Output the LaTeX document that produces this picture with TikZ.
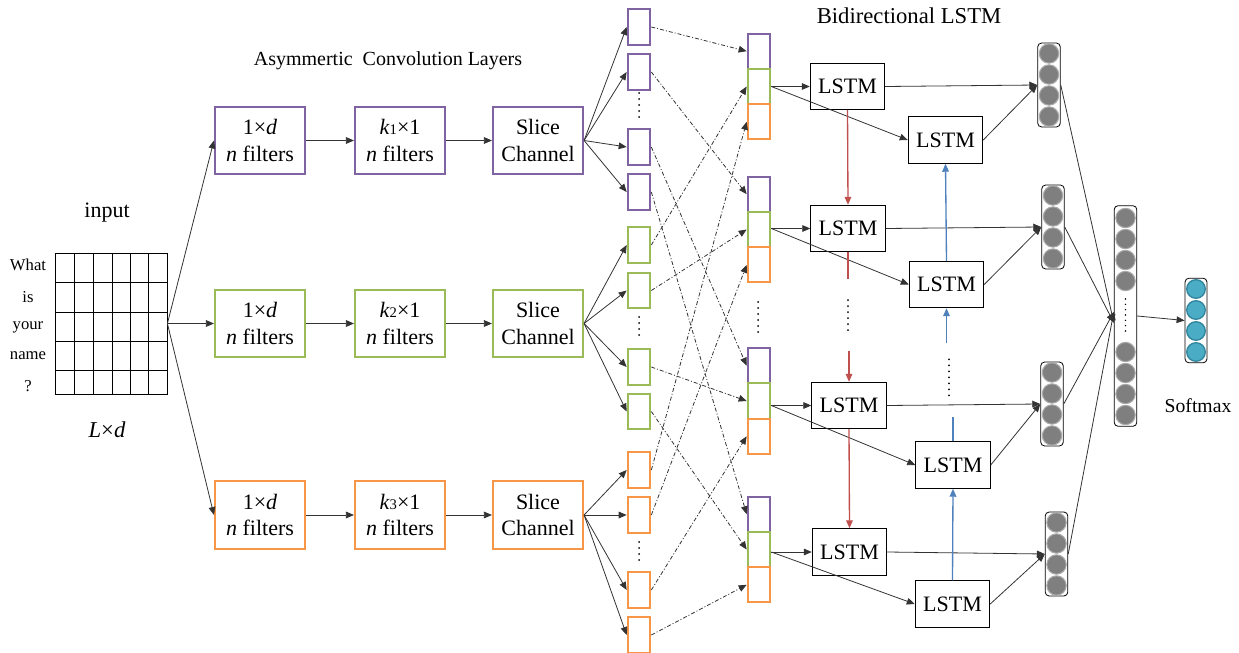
\documentclass[tikz,border=0pt]{standalone}
\usepackage{fontspec}
\setmainfont{Liberation Serif}
\usetikzlibrary{arrows.meta}
\definecolor{purp}{RGB}{128,100,162}
\definecolor{grn}{RGB}{155,187,89}
\definecolor{org}{RGB}{247,150,70}
\definecolor{redc}{RGB}{192,80,77}
\definecolor{bluec}{RGB}{79,129,189}
\definecolor{tealc}{RGB}{75,172,198}
\definecolor{tealedge}{RGB}{49,133,156}
\definecolor{unitc}{RGB}{127,127,127}
\definecolor{unitedge}{RGB}{170,170,170}

\begin{document}
\begin{tikzpicture}[x=0.75pt,y=0.75pt,yscale=-1,xscale=1,
  big/.style={font=\fontsize{16.5}{20}\selectfont},
  conv/.style={draw, line width=1.6pt, minimum width=67.5pt, minimum height=50.5pt, inner sep=0pt, align=center, big},
  cell/.style={draw, line width=1.5pt, minimum width=17pt, minimum height=26.5pt, inner sep=0pt},
  lstm/.style={draw, line width=0.6pt, minimum width=56pt, minimum height=35pt, inner sep=0pt, big},
  vec/.style={draw, line width=0.6pt, rounded corners=3pt, minimum width=17pt, minimum height=63pt, inner sep=0pt},
  unit/.style={fill=unitc, draw=unitedge, line width=0.8pt},
  sunit/.style={fill=tealc, draw=tealedge, line width=1pt},
  arr/.style={-{Triangle[length=6pt,width=5pt]}, line width=0.6pt, color=black!80},
  dd/.style={arr, dash pattern=on 3pt off 1.5pt on 0.75pt off 1.5pt},
  vdots/.style={line width=1.5pt, line cap=round, dash pattern=on 0pt off 4.5pt},
  fwd/.style={arr, line width=1pt, color=redc},
  bwd/.style={arr, line width=1pt, color=bluec},
  word/.style={font=\fontsize{12.5}{14}\selectfont}
]
\useasboundingbox (0,0) rectangle (1239,653);

% Text Node
\draw (107,213) node [big] (inlabel) {input};
% Text Node
\draw (107,430) node [font=\fontsize{17}{20}\selectfont] (dimlabel) {\textit{L}×\textit{d}};
% Text Node
\draw (388,61) node [font=\fontsize{15}{18}\selectfont] (convlabel) {Asymmertic~~Convolution Layers};
% Text Node
\draw (909,16) node [font=\fontsize{17}{20}\selectfont] (bilabel) {Bidirectional LSTM};
% Text Node
\draw (1198,406) node [font=\fontsize{14.75}{18}\selectfont] (softlabel) {Softmax};

%Shape: Grid
\draw (111,323.5) node [draw, line width=0.6pt, minimum width=84pt, minimum height=105.75pt, inner sep=0pt] (inp) {};
\foreach \x in {74,93,112,130,148} \draw [line width=0.6pt] (\x,253) -- (\x,394);
\foreach \y in {282,312,341,370} \draw [line width=0.6pt] (55,\y) -- (167,\y);
% Text Node
\foreach \w/\y/\n in {What/265/w1, is/297/w2, your/327/w3, name/356/w4, ?/386/w5}
  \draw (28,\y) node [word] (\n) {\w};

%Shape: Rectangle
\foreach \k/\y/\c in {1/140.5/purp, 2/323.5/grn, 3/515/org} {
  \draw (260,\y) node [conv, draw=\c] (oned\k) {1×\textit{d}\\\textit{n} filters};
  \draw (400,\y) node [conv, draw=\c] (kone\k) {\textit{k}{\fontsize{11}{11}\selectfont\k}×1\\\textit{n} filters};
  \draw (538,\y) node [conv, draw=\c] (slice\k) {Slice\\Channel};
}

%Shape: Rectangle
\foreach \k/\y in {1/27, 2/72, 3/147, 4/192} \draw (639,\y) node [cell, draw=purp] (p\k) {};
\foreach \k/\y in {1/245, 2/290.5, 3/367, 4/411.5} \draw (639,\y) node [cell, draw=grn] (g\k) {};
\foreach \k/\y in {1/470, 2/515, 3/590, 4/635} \draw (639,\y) node [cell, draw=org] (o\k) {};
\draw [vdots] (639,93) -- (639,118);
\draw [vdots] (639,317) -- (639,339);
\draw [vdots] (639,542) -- (639,564);

%Shape: Rectangle
\foreach \k/\y in {1/86.5, 2/229.5, 3/401, 4/549.5} {
  \draw (759,{\y-35.3}) node [cell, draw=purp] (cp\k) {};
  \draw (759,\y) node [cell, draw=grn] (cg\k) {};
  \draw (759,{\y+35.3}) node [cell, draw=org] (co\k) {};
}
\draw [vdots] (758,302) -- (758,333);

%Shape: Rectangle
\foreach \k/\xa/\ya/\xb/\yb in {1/847.5/86.5/945.5/140, 2/848/228.5/946.5/284.5, 3/849/405.5/953/465, 4/849.5/552/952.5/604} {
  \draw (\xa,\ya) node [lstm] (fw\k) {LSTM};
  \draw (\xb,\yb) node [lstm] (bw\k) {LSTM};
}

%Shape: Vector
\foreach \n/\x/\y in {c1/1049/85, c2/1053/227, c3/1052/404, c4/1056.5/554} {
  \draw (\x,\y) node [vec] (\n) {};
  \foreach \d in {-31.5,-10.5,10.5,31.5} \draw [unit] (\x,{\y+\d}) circle (9.7);
}
\draw (1125.5,316) node [vec, minimum height=165.5pt] (cat) {};
\foreach \y in {218,239,260,281,352,373,394,415} \draw [unit] (1125.5,\y) circle (9.7);
\draw [vdots, line width=1.2pt, dash pattern=on 0pt off 4pt] (1125.5,299) -- (1125.5,331);
\draw (1196,320.5) node [vec, minimum width=16.5pt, minimum height=63.5pt] (soft) {};
\foreach \d in {-31.5,-10.5,10.5,31.5} \draw [sunit] (1196,{320.5+\d}) circle (9.3);

%Straight Lines
\foreach \k in {1,2,3} {
  \draw [arr] (inp.east) -- (oned\k.west);
  \draw [arr] (oned\k.east) -- (kone\k.west);
  \draw [arr] (kone\k.east) -- (slice\k.west);
}
\foreach \k in {1,...,4} {
  \draw [arr] (slice1.east) -- (p\k.west);
  \draw [arr] (slice2.east) -- (g\k.west);
  \draw [arr] (slice3.east) -- (o\k.west);
  \draw [dd] (p\k.east) -- (cp\k.west);
  \draw [dd] (g\k.east) -- (cg\k.west);
  \draw [dd] (o\k.east) -- (co\k.west);
  \draw [arr] (cg\k.east |- fw\k.west) -- (fw\k.west);
  \draw [arr] (cg\k.east |- fw\k.west) -- (bw\k.west);
  \draw [arr] (fw\k.east) -- (c\k.west);
  \draw [arr] (bw\k.east) -- (c\k.west);
}

%Straight Lines
\draw [fwd] (fw1.south) -- (fw2.north);
\draw [fwd, -] (fw2.south) -- ++(0,27);
\draw [vdots] (fw2.south) ++(0,48) -- ++(0,36);
\draw [fwd] (fw3.north) ++(0,-31) -- (fw3.north);
\draw [fwd] (fw3.south) -- (fw4.north);
\draw [bwd] (bw2.north) -- (bw1.south);
\draw [bwd, -] (bw3.north) -- ++(0,-24);
\draw [vdots] (bw3.north) ++(-4,-46) -- ++(0,-37);
\draw [bwd] (bw2.south) ++(0,35) -- (bw2.south);
\draw [bwd] (bw4.north) -- (bw3.south);

%Straight Lines
\draw [arr] (c1.east) -- ([yshift=5pt]cat.west);
\draw [arr] (c2.east) -- ([yshift=5pt]cat.west);
\draw [arr] (c3.east) -- ([yshift=-3pt]cat.west);
\draw [arr] (c4.east) -- ([yshift=-3pt]cat.west);
\draw [arr] (cat.east) -- (soft.west);

\end{tikzpicture}
\end{document}
